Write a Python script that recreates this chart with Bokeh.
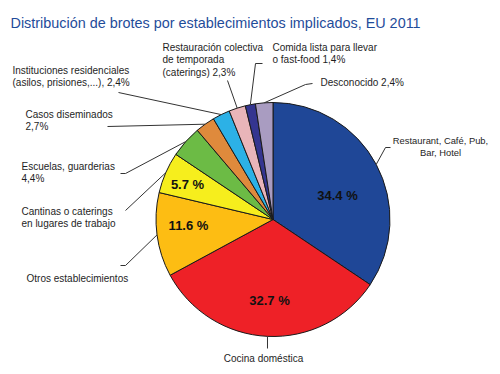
import numpy as np
from bokeh.plotting import figure
from bokeh.models import Range1d, ColumnDataSource
from bokeh.core.properties import value
from bokeh.embed import file_html
from bokeh.resources import INLINE

# ---------------- data ----------------
title = "Distribución de brotes por establecimientos implicados, EU 2011"
categories = [
    "Restaurant, Café, Pub,\nBar, Hotel",
    "Cocina doméstica",
    "Otros establecimientos",
    "Cantinas o caterings\nen lugares de trabajo",
    "Escuelas, guarderias\n4,4%",
    "Casos diseminados\n2,7%",
    "Instituciones residenciales\n(asilos, prisiones,...), 2,4%",
    "Restauración colectiva\nde temporada\n(caterings) 2,3%",
    "Comida lista para llevar\no fast-food 1,4%",
    "Desconocido 2,4%",
]
values = [34.4, 32.7, 11.6, 5.7, 4.4, 2.7, 2.4, 2.3, 1.4, 2.4]
inside_labels = ["34.4 %", "32.7 %", "11.6 %", "5.7 %", "", "", "", "", "", ""]

# ---------------- style / layout ----------------
colors = ["#1f4797", "#ee2127", "#fdbd13", "#f6ee1d", "#6cbb45", "#df8a3c",
          "#2cb1e6", "#e9b5b9", "#343590", "#a99cc1"]
W, H = 492, 366
def Y(yr):
    return H - yr

cx, cy, R = 272.5, Y(219), 117
FONT = value("Liberation Sans")

# label anchors (reference pixel coords): x, y of first line, align, size
label_pos = [
    (440, 140, "center", "9.4px"),
    (263, 358, "center", "10px"),
    (26, 278, "left", "10px"),
    (21, 211, "left", "10px"),
    (21, 166, "left", "10px"),
    (25, 114, "left", "10px"),
    (12, 70, "left", "10px"),
    (162, 47, "left", "10px"),
    (272, 47, "left", "10px"),
    (320, 82, "left", "10px"),
]
# leader line bends (after the slice edge point)
leader_pts = [
    [(385, 147), (390, 147)],
    [None, (None, 348)],
    [(125, 265), (120, 265)],
    [(125, 210)],
    [(125, 173), (120, 173)],
    [(107, 126)],
    [(118, 92)],
    [(227, 80)],
    [(255, 63), (262, 63)],
    [(305, 84), (312, 83)],
]
inside_pos = [(337, 195), (269, 300), (188, 225), (187, 184)]

# ---------------- compute ----------------
vals = np.array(values, dtype=float)
frac = vals / vals.sum()
cum = np.concatenate([[0], np.cumsum(frac)])
start = np.pi / 2 - cum[:-1] * 2 * np.pi
end = np.pi / 2 - cum[1:] * 2 * np.pi
mid = (start + end) / 2

p = figure(width=W, height=H, output_backend="svg", toolbar_location=None,
           x_range=Range1d(0, W), y_range=Range1d(0, H), min_border=0)
p.axis.visible = False
p.grid.visible = False
p.outline_line_color = None
p.background_fill_color = "white"
p.border_fill_color = "white"

src = ColumnDataSource(dict(start=start, end=end, color=colors))
p.wedge(x=cx, y=cy, radius=R, start_angle="start", end_angle="end",
        direction="clock", fill_color="color", line_color="#1a1a1a",
        line_width=1, source=src)

# leader lines
xs, ys = [], []
for i, pts in enumerate(leader_pts):
    ex = cx + R * np.cos(mid[i])
    ey = cy + R * np.sin(mid[i])
    lx, ly = [ex], [ey]
    for pt in pts:
        if pt is None:
            continue
        px_, py_ = pt
        lx.append(ex if px_ is None else px_)
        ly.append(Y(py_))
    xs.append(lx)
    ys.append(ly)
p.multi_line(xs=xs, ys=ys, line_color="#333333", line_width=1)

# outside labels
for lbl, (lx, ly, al, fs) in zip(categories, label_pos):
    p.text(x=[lx], y=[Y(ly - 6)], text=[lbl], text_font=FONT,
           text_font_size=fs, text_color="#1e1e1e", text_align=al,
           text_baseline="top", text_line_height=1.15)

# inside labels
for lbl, (lx, ly) in zip(inside_labels, inside_pos):
    p.text(x=[lx], y=[Y(ly)], text=[lbl], text_font=FONT,
           text_font_size="13px", text_font_style="bold", text_color="#111111",
           text_align="center", text_baseline="middle")

# title
p.text(x=[10], y=[Y(22)], text=[title], text_font=FONT, text_font_size="14.4px",
       text_color="#1f4c9a", text_align="left", text_baseline="middle")

open("out.html", "w").write(file_html(p, INLINE))
